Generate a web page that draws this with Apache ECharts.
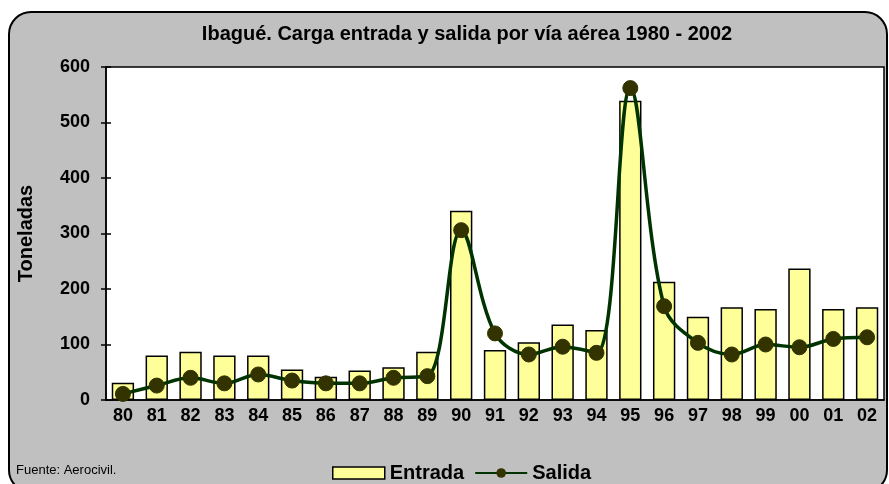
<!DOCTYPE html>
<html lang="es">
<head>
  <meta charset="UTF-8">
  <script src="https://cdn.jsdelivr.net/npm/echarts/dist/echarts.min.js"></script>
  <style>
    body { margin: 0; background: #ffffff; }
    #main { width: 889px; height: 484px; }
  </style>
</head>
<body>
  <div id="main"></div>
  <script>
    // years shown as two-digit labels
    var years = ['80', '81', '82', '83', '84', '85', '86', '87', '88', '89', '90', '91',
                 '92', '93', '94', '95', '96', '97', '98', '99', '00', '01', '02'];
    var entrada = [31, 80, 87, 80, 80, 55, 42, 53, 59, 87, 341, 90,
                   104, 136, 126, 539, 213, 150, 167, 164, 237, 164, 167];
    var salida = [11, 26, 40, 30, 46, 35, 30, 30, 40, 43, 306, 120,
                  82, 96, 85, 562, 169, 103, 82, 100, 95, 110, 113];
    var yTicks = [0, 100, 200, 300, 400, 500, 600];

    var chart = echarts.init(document.getElementById('main'));
    var fam = 'Liberation Sans, Arial, sans-serif';
    var labelFont = { fontFamily: fam, fontWeight: 'bold', fontSize: 18, color: '#000' };
    var bigFont = { fontFamily: fam, fontWeight: 'bold', fontSize: 20, color: '#000' };

    chart.setOption({
      animation: false,
      backgroundColor: '#ffffff',
      graphic: [{
        type: 'rect', z: -10,
        shape: { x: 9, y: 12, width: 878, height: 480, r: 22 },
        style: { fill: '#c0c0c0', stroke: '#000', lineWidth: 2 }
      }, {
        type: 'text', left: 16, top: 464,
        style: { text: 'Fuente: Aerocivil.', fontFamily: fam, fontSize: 13, fill: '#000' }
      }],
      title: {
        text: 'Ibagué. Carga entrada y salida por vía aérea 1980 - 2002',
        left: 462, top: 19, textAlign: 'center',
        textStyle: bigFont
      },
      legend: {
        left: 332, top: 463, padding: 0,
        itemGap: 10,
        textStyle: bigFont,
        data: [
          { name: 'Entrada', icon: 'rect', itemStyle: { color: '#ffff99', borderColor: '#000', borderWidth: 1.5 } },
          { name: 'Salida' }
        ],
        itemWidth: 52, itemHeight: 12
      },
      grid: {
        left: 106, right: 5, top: 67, bottom: 84,
        show: true, backgroundColor: '#ffffff', borderColor: '#000', borderWidth: 1.5
      },
      xAxis: [{
        type: 'category', data: years,
        axisLine: { lineStyle: { color: '#000', width: 1.5 } },
        axisTick: { length: 5, lineStyle: { color: '#000', width: 1.5 } },
        axisLabel: Object.assign({ margin: 7, interval: 0 }, labelFont)
      }, {
        type: 'category', data: years, position: 'bottom',
        axisLine: { show: false },
        axisTick: { inside: true, length: 5, lineStyle: { color: '#000', width: 1.5 } },
        axisLabel: { show: false }
      }],
      yAxis: [{
        type: 'value', min: 0, max: 600, interval: 100,
        name: 'Toneladas', nameLocation: 'middle', nameGap: 70,
        nameTextStyle: bigFont,
        splitLine: { show: false },
        axisLine: { show: true, lineStyle: { color: '#000', width: 1.5 } },
        axisTick: { show: true, length: 5, lineStyle: { color: '#000', width: 1.5 } },
        axisLabel: Object.assign({ margin: 16, formatter: function (v) { return yTicks.indexOf(v) >= 0 ? v : ''; } }, labelFont)
      }, {
        type: 'value', min: 0, max: 600, interval: 100, position: 'left',
        splitLine: { show: false },
        axisLine: { show: false },
        axisTick: { show: true, inside: true, length: 5, lineStyle: { color: '#000', width: 1.5 } },
        axisLabel: { show: false }
      }],
      series: [{
        name: 'Entrada', type: 'bar', data: entrada, barWidth: '66%',
        itemStyle: { color: '#ffff99', borderColor: '#000', borderWidth: 1.5 }
      }, {
        name: 'Salida', type: 'line', data: salida, smooth: 0.35,
        symbol: 'circle', symbolSize: 15,
        lineStyle: { color: '#003300', width: 3.5 },
        itemStyle: { color: '#333300', borderColor: '#333300' }
      }]
    });
  </script>
</body>
</html>
